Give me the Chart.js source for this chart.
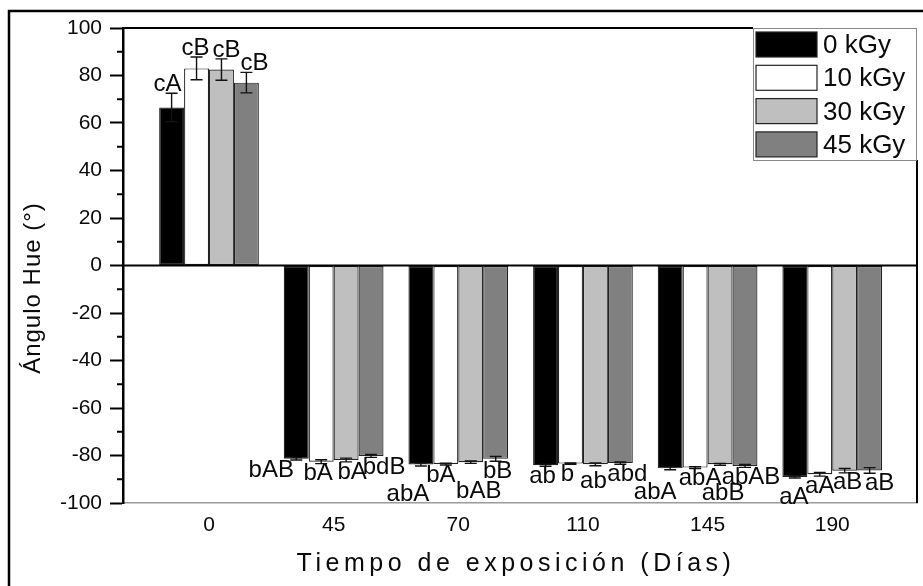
<!DOCTYPE html>
<html>
<head>
<meta charset="utf-8">
<script src="https://cdn.jsdelivr.net/npm/chart.js@4.4.1/dist/chart.umd.min.js"></script>
<style>
  html, body { margin: 0; padding: 0; background: #fff; }
  #wrap { width: 923px; height: 586px; }
</style>
</head>
<body>
<div id="wrap"><canvas id="hueChart" width="923" height="586"></canvas></div>
<script>
const days = ["0", "45", "70", "110", "145", "190"];
const doses = ["0 kGy", "10 kGy", "30 kGy", "45 kGy"];

// Hue angle (°) per dose, one value per exposure day
const hue0  = [66.5, -81.4, -83.8, -84.1, -85.4, -89.0];
const hue10 = [83.0, -82.6, -83.6, -83.4, -85.1, -87.9];
const hue30 = [82.5, -81.9, -82.8, -83.7, -83.7, -86.4];
const hue45 = [77.0, -80.2, -81.4, -83.2, -84.4, -86.3];

// standard deviations
const err0  = [6.0, 0.5, 0.6, 0.4, 0.6, 0.5];
const err10 = [4.8, 0.8, 0.4, 0.3, 0.4, 0.8];
const err30 = [4.5, 0.8, 0.5, 0.6, 0.4, 0.9];
const err45 = [4.3, 0.6, 1.0, 0.5, 0.6, 1.2];

// significance letters
const letters0  = ["cA", "bAB", "abA", "ab", "abA", "aA"];
const letters10 = ["cB", "bA", "bA", "b", "abA", "aA"];
const letters30 = ["cB", "bA", "bAB", "ab", "abB", "aB"];
const letters45 = ["cB", "bdB", "bB", "abd", "abAB", "aB"];

// letter placement: text line under a negative bar, and sideways nudge in px
const rows0  = [0, 0, 1, 0, 0.7, 0.5];
const rows10 = [0, 0, 0, 0, 0, 0];
const rows30 = [0, 0, 1, 0.3, 1, 0];
const rows45 = [0, 0, 0, 0, 0, 0];
const nudge0  = [-4, -25, -13, -3, -15, -1];
const nudge10 = [-1, -3, -5, -3, 5, 0];
const nudge30 = [5, 6, 8, -2, 3, 3];
const nudge45 = [8, 13, 2, 7, 6, 10];

const fills = ["#000000", "#ffffff", "#bfbfbf", "#808080"];
const FONT = '"Liberation Sans", Arial, sans-serif';
const INK = "#0a0a0a";

const series = [
  [hue0, err0, letters0, rows0, nudge0],
  [hue10, err10, letters10, rows10, nudge10],
  [hue30, err30, letters30, rows30, nudge30],
  [hue45, err45, letters45, rows45, nudge45]
];

const datasets = series.map(([vals, errs, lets, rows, nudges], k) => ({
  label: doses[k],
  data: vals.map((v, i) => ({ x: i, y: v })),
  errors: errs,
  letters: lets,
  rows: rows,
  nudges: nudges,
  backgroundColor: fills[k],
  borderColor: "#222",
  borderWidth: 1.2,
  borderSkipped: false,
  categoryPercentage: 0.8,
  barPercentage: 1.0
}));

const decorations = {
  id: "decorations",
  beforeDraw(chart) {
    const { ctx } = chart;
    ctx.save();
    ctx.fillStyle = "#fff";
    ctx.fillRect(0, 0, chart.width, chart.height);
    ctx.restore();
  },
  afterDatasetsDraw(chart) {
    const { ctx, chartArea: a, scales: { y } } = chart;
    ctx.save();
    // zero line
    ctx.strokeStyle = "#000";
    ctx.lineWidth = 2;
    ctx.beginPath();
    ctx.moveTo(a.left, y.getPixelForValue(0));
    ctx.lineTo(a.right, y.getPixelForValue(0));
    ctx.stroke();

    chart.data.datasets.forEach((ds, di) => {
      const meta = chart.getDatasetMeta(di);
      meta.data.forEach((bar, i) => {
        const v = ds.data[i].y, e = ds.errors[i];
        const yHi = y.getPixelForValue(v + e);
        const yLo = y.getPixelForValue(v - e);
        ctx.strokeStyle = "#111";
        ctx.lineWidth = 1.4;
        ctx.beginPath();
        ctx.moveTo(bar.x, yHi); ctx.lineTo(bar.x, yLo);
        ctx.moveTo(bar.x - 6, yHi); ctx.lineTo(bar.x + 6, yHi);
        ctx.moveTo(bar.x - 6, yLo); ctx.lineTo(bar.x + 6, yLo);
        ctx.stroke();

        ctx.fillStyle = INK;
        ctx.font = "24px " + FONT;
        ctx.textAlign = "center";
        const lx = bar.x + ds.nudges[i];
        if (v >= 0) {
          ctx.textBaseline = "bottom";
          ctx.fillText(ds.letters[i], lx, yHi + 3);
        } else {
          ctx.textBaseline = "top";
          ctx.fillText(ds.letters[i], lx, yLo - 2 + ds.rows[i] * 18);
        }
      });
    });
    ctx.restore();
  },
  afterDraw(chart) {
    const { ctx, chartArea: a, scales: { y } } = chart;
    const legW = 164, legH = 132;
    const legX = a.right - legW, legY = a.top;
    ctx.save();

    // outer frame of the figure
    ctx.strokeStyle = "#000";
    ctx.lineWidth = 2.5;
    ctx.strokeRect(9, 11, chart.width + 20, chart.height + 20);

    // plot box: top and right sides
    ctx.lineWidth = 2;
    ctx.beginPath();
    ctx.moveTo(a.left, a.top); ctx.lineTo(legX, a.top);
    ctx.moveTo(a.right, legY + legH); ctx.lineTo(a.right, a.bottom);
    ctx.stroke();

    // minor ticks on the y axis
    for (let v = -90; v <= 90; v += 20) {
      const py = y.getPixelForValue(v);
      ctx.beginPath();
      ctx.moveTo(a.left - 6, py); ctx.lineTo(a.left, py);
      ctx.stroke();
    }

    // legend
    ctx.fillStyle = "#fff";
    ctx.fillRect(legX, legY, legW, legH);
    ctx.strokeStyle = "#888";
    ctx.lineWidth = 1;
    ctx.strokeRect(legX + 0.5, legY + 0.5, legW - 1, legH);
    ctx.font = "26px " + FONT;
    ctx.textAlign = "left";
    ctx.textBaseline = "middle";
    chart.data.datasets.forEach((ds, k) => {
      const sy = legY + 4 + k * 33.3;
      ctx.fillStyle = ds.backgroundColor;
      ctx.fillRect(legX + 3, sy, 61, 25);
      ctx.strokeStyle = "#222";
      ctx.lineWidth = 1.2;
      ctx.strokeRect(legX + 3, sy, 61, 25);
      ctx.fillStyle = INK;
      ctx.fillText(ds.label, legX + 70, sy + 14);
    });

    // axis titles
    ctx.fillStyle = INK;
    ctx.textAlign = "center";
    ctx.textBaseline = "middle";
    ctx.font = "25px " + FONT;
    ctx.letterSpacing = "4.5px";
    ctx.fillText("Tiempo de exposición (Días)", 516, 564);
    ctx.translate(33, 288);
    ctx.rotate(-Math.PI / 2);
    ctx.font = "24px " + FONT;
    ctx.letterSpacing = "1px";
    ctx.fillText("Ángulo Hue (°)", 0, 0);
    ctx.restore();
  }
};

new Chart(document.getElementById("hueChart"), {
  type: "bar",
  data: { datasets: datasets },
  options: {
    responsive: false,
    animation: false,
    layout: { padding: { top: 28, right: 6, left: 0, bottom: 0 } },
    plugins: { legend: { display: false }, tooltip: { enabled: false } },
    scales: {
      x: {
        type: "linear",
        offset: false,
        min: -0.69,
        max: 5.68,
        afterBuildTicks: (scale) => { scale.ticks = days.map((d, i) => ({ value: i })); },
        afterFit: (scale) => { scale.height = 83; },
        grid: { display: true, offset: false, drawOnChartArea: false, drawTicks: false },
        border: { display: true, color: "#9a9a9a", width: 1.5 },
        ticks: {
          callback: (v) => days[v] ?? "",
          color: INK,
          padding: 10,
          font: { family: FONT, size: 21 },
          maxRotation: 0,
          autoSkip: false
        }
      },
      y: {
        min: -100,
        max: 100,
        afterFit: (scale) => { scale.width = 123; },
        grid: { display: true, drawOnChartArea: false, tickLength: 13, tickColor: "#000", tickWidth: 2 },
        border: { display: true, color: "#000", width: 2.5 },
        ticks: {
          stepSize: 20,
          color: INK,
          padding: 8,
          font: { family: FONT, size: 21 }
        }
      }
    }
  },
  plugins: [decorations]
});
</script>
</body>
</html>
